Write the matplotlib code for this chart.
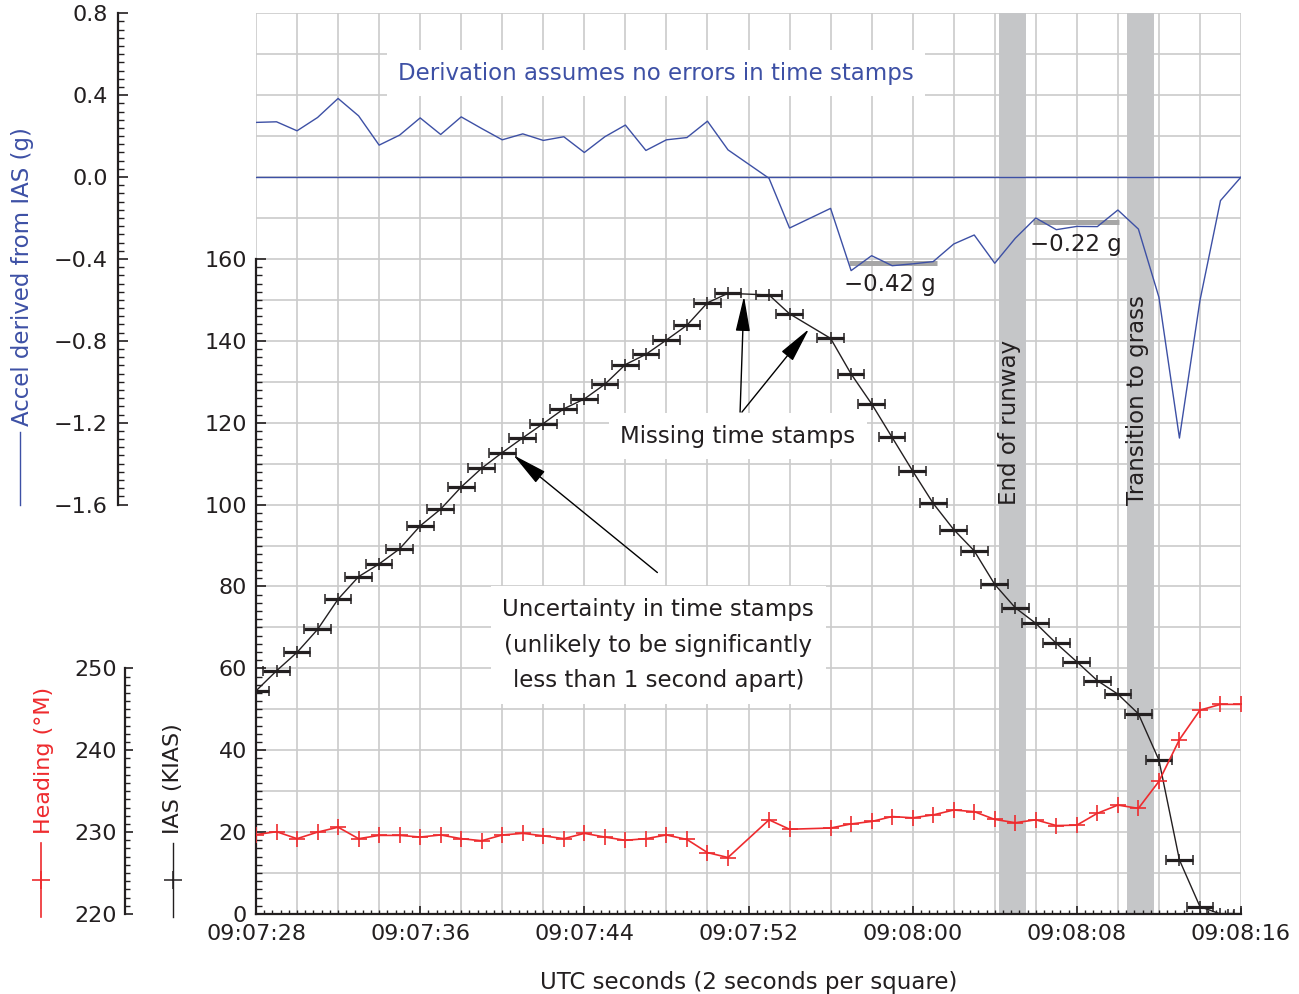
import numpy as np
import matplotlib
matplotlib.use("Agg")
import matplotlib.pyplot as plt
from matplotlib.ticker import FixedLocator, FuncFormatter, MultipleLocator
from matplotlib.lines import Line2D

plt.rcParams['font.family'] = ['DejaVu Sans']
FS = 16

# ---------------- data ----------------
time_s = [28, 29, 30, 31, 32, 33, 34, 35, 36, 37, 38, 39, 40, 41, 42, 43, 44, 45,
          46, 47, 48, 49, 50, 51, 53, 54, 56, 57, 58, 59, 60, 61, 62, 63, 64, 65,
          66, 67, 68, 69, 70, 71, 72, 73, 74, 75, 76]
ias_kias = [54.5, 59.4, 63.9, 69.5, 76.9, 82.4, 85.5, 89.2, 94.8, 98.9, 104.3, 108.9,
            112.7, 116.3, 119.8, 123.4, 125.8, 129.4, 134.2, 136.7, 140.2, 143.8, 149.3,
            151.6, 151.2, 146.6, 140.6, 131.9, 124.6, 116.4, 108.2, 100.3, 93.9, 88.7,
            80.5, 74.8, 71.0, 66.1, 61.6, 57.0, 53.7, 48.9, 37.6, 13.2, 1.8, 0.0, 0.0]
heading_degM = [229.7, 230.05, 229.2, 230.0, 230.6, 229.2, 229.6, 229.6, 229.4, 229.65,
                229.2, 228.95, 229.65, 229.85, 229.55, 229.2, 229.85, 229.4, 229.0, 229.2,
                229.65, 229.1, 227.5, 226.9, 231.5, 230.35, 230.5, 231.0, 231.3, 231.9,
                231.75, 232.1, 232.7, 232.5, 231.55, 231.15, 231.5, 230.8, 230.85, 232.3,
                233.3, 232.9, 236.2, 241.3, 244.9, 245.6, 245.6]
accel_g = [0.267, 0.27, 0.226, 0.291, 0.384, 0.299, 0.156, 0.205, 0.289, 0.208, 0.294,
           0.237, 0.182, 0.211, 0.179, 0.197, 0.120, 0.197, 0.254, 0.130, 0.182, 0.193,
           0.273, 0.133, -0.006, -0.249, -0.153, -0.457, -0.384, -0.433, -0.424, -0.413,
           -0.327, -0.283, -0.421, -0.299, -0.200, -0.257, -0.241, -0.242, -0.161,
           -0.254, -0.587, -1.275, -0.603, -0.115, 0.0]
time_err_s = 0.65
runway_end_band = (64.19, 65.51)
grass_band = (70.43, 71.74)
avg_decel_g = [-0.42, -0.22]
avg_start_s = [56.9, 65.85]
avg_end_s = [61.2, 70.05]
avg_labels = ["\u22120.42 g", "\u22120.22 g"]
xtick_times = [28, 36, 44, 52, 60, 68, 76]

# ---------------- style ----------------
BLUE = '#3d50a5'
RED = '#ee2b2e'
INK = '#231f20'
GRID = '#cbcbcb'
BAND = '#c5c6c8'
W, H = 1299, 994

fig = plt.figure(figsize=(W / 100, H / 100), dpi=100)
pos = [256 / W, 1 - 914 / H, 985 / W, (914 - 13.3) / H]
XL = (28, 76)

# grid / background axes
axg = fig.add_axes(pos)
axg.set_xlim(*XL)
axg.set_ylim(0, 220)
axg.xaxis.set_major_locator(MultipleLocator(2))
axg.yaxis.set_major_locator(MultipleLocator(10))
axg.grid(True, color=GRID, lw=1.2)
axg.tick_params(length=0, labelbottom=False, labelleft=False)
for s in axg.spines.values():
    s.set_visible(False)
for band in (runway_end_band, grass_band):
    axg.axvspan(*band, color=BAND, lw=0, zorder=2)

box = dict(boxstyle='square,pad=0.5', fc='white', ec='none')
axg.text(47.5, 205.4, "Derivation assumes no errors in time stamps", color=BLUE,
         fontsize=16.5, ha='center', va='center', bbox=box, zorder=3)
axg.text(51.47, 116.75, "Missing time stamps", color=INK, fontsize=16.5,
         ha='center', va='center', bbox=box, zorder=3)
axg.text(47.6, 65.7, "Uncertainty in time stamps\n(unlikely to be significantly\nless than 1 second apart)",
         color=INK, fontsize=16.5, ha='center', va='center', linespacing=1.7,
         bbox=box, zorder=3)
axg.text(64.74, 100, "End of runway", rotation=90, ha='center', va='bottom',
         color=INK, fontsize=16.5, zorder=3)
axg.text(70.98, 100, "Transition to grass", rotation=90, ha='center', va='bottom',
         color=INK, fontsize=16.5, zorder=3)
arrow = dict(arrowstyle="-|>,head_length=2.2,head_width=0.45", mutation_scale=10,
             lw=1, color='black', shrinkA=0, shrinkB=0)
axg.annotate("", xy=(51.78, 150.9), xytext=(51.59, 122.6), arrowprops=arrow, zorder=2.5)
axg.annotate("", xy=(54.95, 142.9), xytext=(51.68, 122.6), arrowprops=arrow, zorder=2.5)
axg.annotate("", xy=(40.54, 112.1), xytext=(47.56, 83.4), arrowprops=arrow, zorder=2.5)

# IAS axes
ax = fig.add_axes(pos)
ax.patch.set_visible(False)
ax.set_xlim(*XL)
ax.set_ylim(0, 220)
for k in ('top', 'right'):
    ax.spines[k].set_visible(False)
ax.spines['left'].set_bounds(0, 160)
for k in ('left', 'bottom'):
    ax.spines[k].set_linewidth(1.6)
    ax.spines[k].set_color(INK)
ax.yaxis.set_major_locator(FixedLocator(np.arange(0, 161, 20)))
ax.yaxis.set_minor_locator(FixedLocator(np.arange(0, 161, 2)))
ax.xaxis.set_major_locator(FixedLocator(xtick_times))
ax.xaxis.set_minor_locator(MultipleLocator(0.4))
ax.xaxis.set_major_formatter(FuncFormatter(
    lambda v, p: f"09:{7 + int(round(v)) // 60:02d}:{int(round(v)) % 60:02d}"))
ax.tick_params(axis='y', which='major', direction='in', length=7, width=1.2,
               colors=INK, labelsize=FS, pad=6.5)
ax.tick_params(axis='y', which='minor', direction='in', length=4.3, width=1.0, colors=INK)
ax.tick_params(axis='x', which='major', direction='in', length=6, width=1.2,
               colors=INK, labelsize=FS, pad=7)
ax.tick_params(axis='x', which='minor', direction='in', length=3, width=1.0, colors=INK)
ax.errorbar(time_s, ias_kias, xerr=time_err_s, fmt='-', color=INK, lw=1.0,
            marker='+', ms=9, mew=1.1, ecolor=INK, elinewidth=2.3,
            capsize=3.3, capthick=2.3, zorder=3)

# Heading axes
axh = fig.add_axes(pos)
axh.patch.set_visible(False)
axh.set_xlim(*XL)
axh.set_ylim(220, 330)
axh.xaxis.set_visible(False)
for k in ('top', 'right', 'bottom'):
    axh.spines[k].set_visible(False)
axh.spines['left'].set_position(('axes', (125 - 256) / 985))
axh.spines['left'].set_bounds(220, 250)
axh.spines['left'].set_linewidth(1.6)
axh.spines['left'].set_color(INK)
axh.yaxis.set_major_locator(FixedLocator([220, 230, 240, 250]))
axh.yaxis.set_minor_locator(FixedLocator(np.arange(220, 251, 1)))
axh.tick_params(axis='y', which='major', direction='in', length=6, width=1.2,
                colors=INK, labelsize=FS, pad=6)
axh.tick_params(axis='y', which='minor', direction='in', length=3.6, width=1.0, colors=INK)
axh.plot(time_s, heading_degM, color=RED, lw=1.2, marker='+', ms=11.5, mew=1.2, zorder=3)

# Accel axes
axa = fig.add_axes(pos)
axa.patch.set_visible(False)
axa.set_xlim(*XL)
axa.set_ylim(-3.6, 0.8)
axa.xaxis.set_visible(False)
for k in ('top', 'right', 'bottom'):
    axa.spines[k].set_visible(False)
axa.spines['left'].set_position(('axes', (118 - 256) / 985))
axa.spines['left'].set_bounds(-1.6, 0.8)
axa.spines['left'].set_linewidth(1.6)
axa.spines['left'].set_color(INK)
axa.yaxis.set_major_locator(FixedLocator(np.round(np.arange(-1.6, 0.81, 0.4), 2)))
axa.yaxis.set_minor_locator(FixedLocator(np.round(np.arange(-1.6, 0.801, 0.04), 3)))
axa.yaxis.set_major_formatter(FuncFormatter(
    lambda v, p: f"{round(v, 1) + 0.0:.1f}".replace('-', '\u2212')))
axa.tick_params(axis='y', which='major', direction='in', length=7, width=1.2,
                colors=INK, labelsize=FS, pad=7.5)
axa.tick_params(axis='y', which='minor', direction='in', length=4.3, width=1.0, colors=INK)
axa.axhline(0, color=BLUE, lw=1.0, zorder=2)
axa.hlines(avg_decel_g, avg_start_s, avg_end_s, color='#a6a6a6', lw=3.6, zorder=2)
axa.plot(time_s, accel_g, color=BLUE, lw=1.0, zorder=3)
axa.text(58.87, -0.527, avg_labels[0], color=INK, fontsize=16.5, ha='center', va='center')
axa.text(67.96, -0.327, avg_labels[1], color=INK, fontsize=16.5, ha='center', va='center')

# axis titles with legend keys
def fx(px):
    return px / W

def fy(py):
    return 1 - py / H

fig.text(fx(23), fy(426), "Accel derived from IAS (g)", rotation=90, ha='center',
         va='bottom', color=BLUE, fontsize=16.5)
fig.add_artist(Line2D([fx(20), fx(20)], [fy(432), fy(505)], color=BLUE, lw=1.0,
                      transform=fig.transFigure))
fig.text(fx(44), fy(834), "Heading (\u00b0M)", rotation=90, ha='center', va='bottom',
         color=RED, fontsize=FS)
fig.add_artist(Line2D([fx(41), fx(41)], [fy(843), fy(917)], color=RED, lw=1.2,
                      transform=fig.transFigure))
fig.add_artist(Line2D([fx(41)], [fy(880)], color=RED, marker='+', ms=13, mew=1.2,
                      transform=fig.transFigure))
fig.text(fx(173), fy(834), "IAS (KIAS)", rotation=90, ha='center', va='bottom',
         color=INK, fontsize=FS)
fig.add_artist(Line2D([fx(173), fx(173)], [fy(843), fy(917)], color=INK, lw=1.0,
                      transform=fig.transFigure))
fig.add_artist(Line2D([fx(173)], [fy(880)], color=INK, marker='+', ms=13, mew=1.1,
                      transform=fig.transFigure))

fig.text(fx(748.5), fy(982), "UTC seconds (2 seconds per square)", ha='center',
         va='center', color=INK, fontsize=16.5)

fig.savefig("out.png", dpi=100)
